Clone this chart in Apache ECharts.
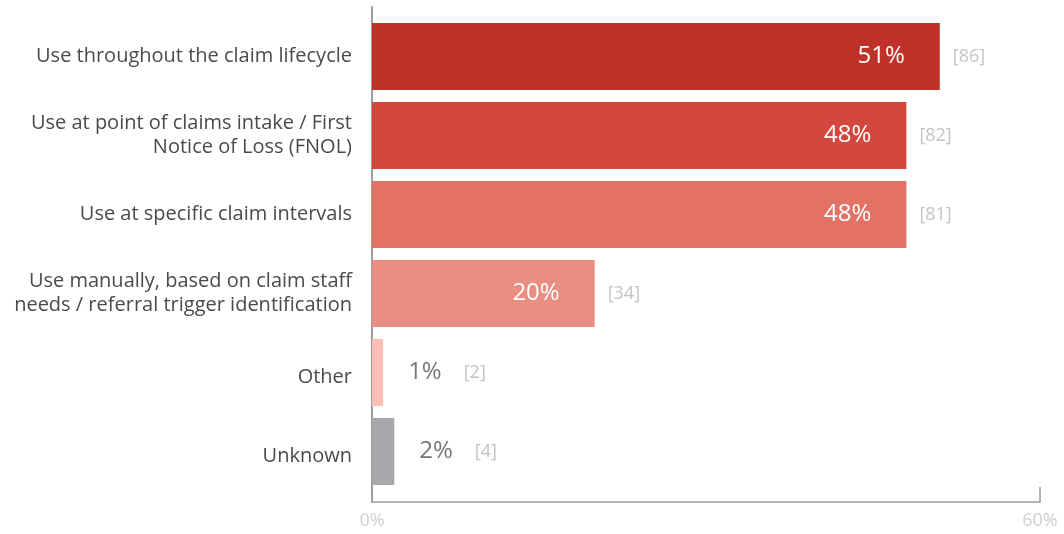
<!DOCTYPE html>
<html>
<head>
<meta charset="utf-8">
<script src="https://cdn.jsdelivr.net/npm/echarts@6/dist/echarts.min.js"></script>
<style>
  html, body { margin: 0; padding: 0; background: #fff; }
  #myChart { width: 1064px; height: 534px; }
</style>
</head>
<body>
<div id="myChart"></div>
<script>
  // data
  var categories = [
    'Use throughout the claim lifecycle',
    'Use at point of claims intake / First\nNotice of Loss (FNOL)',
    'Use at specific claim intervals',
    'Use manually, based on claim staff\nneeds / referral trigger identification',
    'Other',
    'Unknown'
  ];
  var percents = [51, 48, 48, 20, 1, 2];
  var counts = [86, 82, 81, 34, 2, 4];
  var barColors = ['#bf3129', '#d4473f', '#e27364', '#e98f82', '#fbbfb5', '#a7a8ab'];

  var fontFamily = '"Open Sans", Lato, sans-serif';
  var axisGray = '#9d9d9d';

  var mainData = percents.map(function (v, i) {
    var item = { value: v, itemStyle: { color: barColors[i] } };
    if (v < 5) item.label = { show: false };
    return item;
  });

  var countData = percents.map(function (v, i) {
    return { value: v, count: counts[i] };
  });

  var myChart = echarts.init(document.getElementById('myChart'));
  var option = {
    backgroundColor: '#fff',
    animation: false,
    textStyle: { fontFamily: fontFamily },
    grid: [
      { left: 372, right: 24, top: 17, bottom: 43 },
      { left: 372, right: 24, top: 7, bottom: 32 }
    ],
    xAxis: [
      { gridIndex: 0, type: 'value', min: 0, max: 60, show: false },
      {
        gridIndex: 1, type: 'value', min: 0, max: 60, interval: 60,
        axisLine: { show: true, lineStyle: { color: axisGray, width: 1.5 } },
        axisTick: { show: true, inside: true, length: 15, lineStyle: { color: axisGray, width: 1.5 } },
        splitLine: { show: false },
        axisLabel: { formatter: '{value}%', color: '#cfcfcf', fontSize: 18, margin: 10, fontFamily: fontFamily }
      }
    ],
    yAxis: [
      {
        gridIndex: 0, type: 'category', data: categories, inverse: true,
        axisLine: { show: false }, axisTick: { show: false },
        axisLabel: {
          color: '#4a4a4a', fontSize: 20, margin: 20, lineHeight: 24, fontFamily: fontFamily,
          formatter: function (v, i) {
            return i >= 4 ? '{low|' + v + '}' : v;
          },
          rich: {
            low: { fontSize: 20, color: '#4a4a4a', fontFamily: fontFamily, padding: [9, 0, 0, 0] }
          }
        }
      },
      {
        gridIndex: 1, type: 'value', min: 0, max: 1,
        axisLine: { show: true, lineStyle: { color: axisGray, width: 2 } },
        axisTick: { show: false }, axisLabel: { show: false }, splitLine: { show: false }
      }
    ],
    series: [
      {
        type: 'bar', xAxisIndex: 0, yAxisIndex: 0,
        data: mainData,
        barCategoryGap: '15%',
        label: {
          show: true, position: 'insideRight', distance: 35,
          formatter: '{c}%', color: '#fff', fontSize: 24, fontFamily: fontFamily
        }
      },
      {
        type: 'bar', xAxisIndex: 0, yAxisIndex: 0,
        data: countData,
        barGap: '-100%',
        barCategoryGap: '15%',
        itemStyle: { color: 'rgba(0,0,0,0)' },
        silent: true,
        label: {
          show: true, position: 'right', distance: 13,
          formatter: function (p) {
            if (p.value < 5) return '{p|' + p.value + '%}{c|[' + p.data.count + ']}';
            return '{c|[' + p.data.count + ']}';
          },
          rich: {
            p: { color: '#777', fontSize: 24, fontFamily: fontFamily, padding: [0, 22, 0, 12] },
            c: { color: '#c4c4c4', fontSize: 18, fontFamily: fontFamily }
          }
        }
      }
    ]
  };
  myChart.setOption(option);
</script>
</body>
</html>
